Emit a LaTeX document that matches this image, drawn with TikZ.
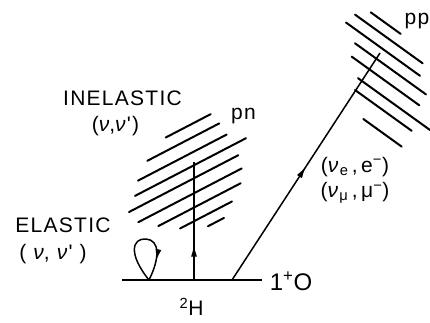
\documentclass[tikz,border=0pt]{standalone}
\usepackage{fontspec}
\setmainfont{Liberation Sans}
\newfontfamily\lettering[LetterSpace=6]{Liberation Sans}
\usetikzlibrary{decorations.markings, arrows.meta}
\newcommand{\nuit}{\textit{ν}}
\tikzset{
  hatch/.style={line width=2pt, line cap=round},
  track/.style={line width=1.5pt, postaction={decorate}, decoration={markings,
      mark=at position #1 with {\arrow{Latex[length=12pt,width=6pt]}}}},
  track/.default=0.5,
  tag/.style={inner sep=0pt, font=\lettering\fontsize{21}{21}\selectfont},
}
\begin{document}
\begin{tikzpicture}[x=1pt, y=-1pt]
  \useasboundingbox (0,0) rectangle (430,322);
  \coordinate (left) at (122,280);
  \coordinate (right) at (262,280);
  \coordinate (loop) at (149,280);
  \coordinate (deut) at (194,280);
  \coordinate (pntop) at (194,162);
  \coordinate (ofin) at (232,280);
  \coordinate (pptop) at (380,53);
  \draw[line width=1.8pt] (left) -- (right);
  \draw[track=0.8] (loop) .. controls (128,254) and (132,238) .. (146,239)
    .. controls (160,240) and (160,258) .. (loop);
  \draw[track=0.3] (deut) -- (pntop);
  \draw[track=0.5] (ofin) -- (pptop);
  \foreach \c/\a/\b in {223.7/165.7/210.7, 237.4/147.3/219.3, 252.4/138/226.7,
      266.1/135/246, 279.1/129/238.3, 294.1/138.3/241.7, 308.4/158.3/240.7,
      322.1/180/232, 334.4/208/224}
    \draw[hatch] ({\a},{\c-0.52*\a}) -- ({\b},{\c-0.52*\b});
  \foreach \c/\a/\b in {-254.6/370.7/400.7, -241/355/422.7, -226.6/346/420,
      -212.3/355/426, -196.6/351.7/419.3, -179.6/358/430, -165.6/355/411.7,
      -142.6/363.3/401.7}
    \draw[hatch] ({\a},{\c+0.72*\a}) -- ({\b},{\c+0.72*\b});
  \node[tag] (inel) at (122.5,98) {INELASTIC};
  \node[tag] (inelnu) at (115.5,126) {(\nuit,\nuit')};
  \node[tag] (el) at (63,225) {ELASTIC};
  \node[tag] (elnu) at (53,254) {( \nuit , \nuit' )};
  \node[tag] (pn) at (243.5,116.5) {pn};
  \node[tag] (pp) at (417,21) {pp};
  \node[tag] (nue) at (355,167) {(\nuit\textsubscript{e}\,,\,e\textsuperscript{−})};
  \node[tag] (numu) at (355,193) {(\nuit\textsubscript{μ}\,,\,μ\textsuperscript{−})};
  \node[tag] (h2) at (191.5,307) {\textsuperscript{2}H};
  \node[tag, font=\lettering\fontsize{24}{24}\selectfont] (spin) at (291,281) {1\textsuperscript{+}O};
\end{tikzpicture}
\end{document}
